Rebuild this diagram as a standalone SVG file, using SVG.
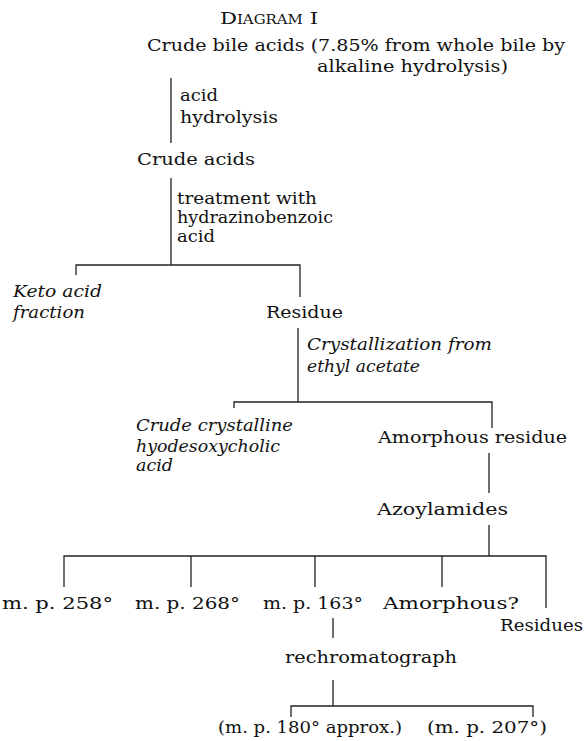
<svg xmlns="http://www.w3.org/2000/svg" width="586" height="741" viewBox="0 0 586 741">
<style>
text{font-family:"DejaVu Serif","Liberation Serif",serif;font-size:16px;fill:#111}
.it{font-style:italic}
.title{font-variant:small-caps;font-size:17px}
.c{stroke:#222;stroke-width:1.3;fill:none}
</style>
<rect width="586" height="741" fill="#fff"/>
<g id="title"><text class="title" x="220" y="24" textLength="98" lengthAdjust="spacingAndGlyphs">Diagram I</text></g>
<g id="connectors">
<path class="c" d="M171 78V143M171 178V265M76 275V265H300V297M298 328V402M234 408V402H492V428M489 453V493M489 525V556M64 587V556H546V608M191 556V587M315 556V587M442 556V587M333 618V638M333 680V706M291 717V706H533V717"/>
</g>
<g id="crude-bile-acids">
<text x="147" y="51" textLength="418" lengthAdjust="spacingAndGlyphs">Crude bile acids (7.85% from whole bile by</text>
<text x="317" y="72" textLength="191" lengthAdjust="spacingAndGlyphs">alkaline hydrolysis)</text>
</g>
<g id="label-acid-hydrolysis">
<text x="180" y="101" textLength="38" lengthAdjust="spacingAndGlyphs">acid</text>
<text x="180" y="123" textLength="98" lengthAdjust="spacingAndGlyphs">hydrolysis</text>
</g>
<g id="crude-acids"><text x="137" y="165" textLength="118" lengthAdjust="spacingAndGlyphs">Crude acids</text></g>
<g id="label-treatment">
<text x="177" y="204" textLength="140" lengthAdjust="spacingAndGlyphs">treatment with</text>
<text x="177" y="223" textLength="156" lengthAdjust="spacingAndGlyphs">hydrazinobenzoic</text>
<text x="177" y="242" textLength="38" lengthAdjust="spacingAndGlyphs">acid</text>
</g>
<g id="keto-acid-fraction">
<text class="it" x="13" y="297" textLength="89" lengthAdjust="spacingAndGlyphs">Keto acid</text>
<text class="it" x="13" y="318" textLength="72" lengthAdjust="spacingAndGlyphs">fraction</text>
</g>
<g id="residue"><text x="266" y="318" textLength="77" lengthAdjust="spacingAndGlyphs">Residue</text></g>
<g id="label-crystallization">
<text class="it" x="307" y="350" textLength="185" lengthAdjust="spacingAndGlyphs">Crystallization from</text>
<text class="it" x="307" y="372" textLength="113" lengthAdjust="spacingAndGlyphs">ethyl acetate</text>
</g>
<g id="crude-crystalline">
<text class="it" x="136" y="431" textLength="157" lengthAdjust="spacingAndGlyphs">Crude crystalline</text>
<text class="it" x="136" y="452" textLength="144" lengthAdjust="spacingAndGlyphs">hyodesoxycholic</text>
<text class="it" x="136" y="471" textLength="37" lengthAdjust="spacingAndGlyphs">acid</text>
</g>
<g id="amorphous-residue"><text x="378" y="443" textLength="189" lengthAdjust="spacingAndGlyphs">Amorphous residue</text></g>
<g id="azoylamides"><text x="377" y="515" textLength="131" lengthAdjust="spacingAndGlyphs">Azoylamides</text></g>
<g id="mp258"><text x="2" y="609" textLength="111" lengthAdjust="spacingAndGlyphs">m. p. 258°</text></g>
<g id="mp268"><text x="135" y="609" textLength="105" lengthAdjust="spacingAndGlyphs">m. p. 268°</text></g>
<g id="mp163"><text x="263" y="609" textLength="100" lengthAdjust="spacingAndGlyphs">m. p. 163°</text></g>
<g id="amorphous"><text x="383" y="609" textLength="136" lengthAdjust="spacingAndGlyphs">Amorphous?</text></g>
<g id="residues"><text x="500" y="631" textLength="83" lengthAdjust="spacingAndGlyphs">Residues</text></g>
<g id="rechromatograph"><text x="285" y="663" textLength="172" lengthAdjust="spacingAndGlyphs">rechromatograph</text></g>
<g id="mp180"><text x="218" y="733" textLength="184" lengthAdjust="spacingAndGlyphs">(m. p. 180° approx.)</text></g>
<g id="mp207"><text x="427" y="733" textLength="120" lengthAdjust="spacingAndGlyphs">(m. p. 207°)</text></g>
</svg>
